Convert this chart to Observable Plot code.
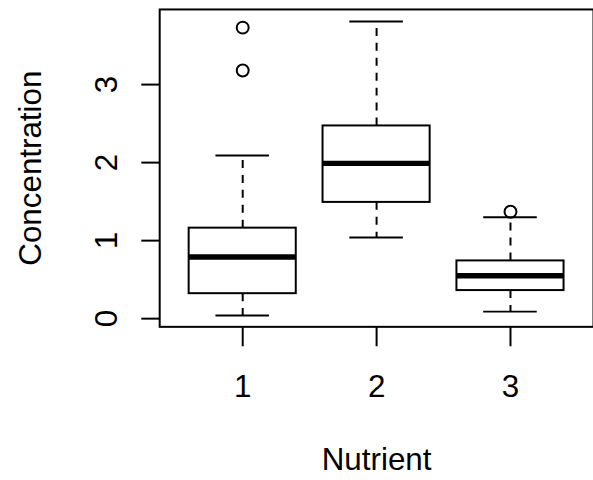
<!DOCTYPE html>
<html>
<head>
<meta charset="utf-8">
<script src="https://cdn.jsdelivr.net/npm/d3@7"></script>
<script src="https://cdn.jsdelivr.net/npm/@observablehq/plot@0.6"></script>
<style>
  html, body { margin: 0; padding: 0; background: #fff; overflow: hidden; }
  #chart svg { display: block; }
</style>
</head>
<body>
<div id="chart"></div>
<script>
// Data
const groups = [1, 2, 3];
const lowerWhisker = [0.04, 1.04, 0.09];
const q1 = [0.32, 1.49, 0.36];
const median = [0.79, 1.99, 0.55];
const q3 = [1.16, 2.47, 0.74];
const upperWhisker = [2.09, 3.81, 1.30];
const outlierGroup = [1, 1, 3];
const outlierValue = [3.18, 3.73, 1.37];
const yTicks = [0, 1, 2, 3];
const xTicks = ["1", "2", "3"];
const xLabel = "Nutrient";
const yLabel = "Concentration";

const stats = groups.map((g, i) => ({
  g, lo: lowerWhisker[i], q1: q1[i], med: median[i], q3: q3[i], hi: upperWhisker[i]
}));
const outliers = outlierGroup.map((g, i) => ({g, v: outlierValue[i]}));

const boxHalf = 0.4, capHalf = 0.2;
const font = 31.5;

const chart = Plot.plot({
  width: 596,
  height: 480,
  marginLeft: 160,
  marginRight: 0,
  marginTop: 9,
  marginBottom: 152,
  style: {fontFamily: "'Liberation Sans', Arial, sans-serif", fontSize: font + "px", color: "#000", background: "#fff"},
  x: {type: "linear", domain: [0.38, 3.62]},
  y: {domain: [-0.105, 3.963]},
  marks: [
    // whiskers (dashed)
    Plot.ruleX(stats, {x: "g", y1: "q3", y2: "hi", stroke: "#000", strokeWidth: 2, strokeDasharray: "8,7"}),
    Plot.ruleX(stats, {x: "g", y1: "q1", y2: "lo", stroke: "#000", strokeWidth: 2, strokeDasharray: "8,7"}),
    // whisker caps
    Plot.ruleY(stats, {y: "hi", x1: d => d.g - capHalf, x2: d => d.g + capHalf, stroke: "#000", strokeWidth: 2}),
    Plot.ruleY(stats, {y: "lo", x1: d => d.g - capHalf, x2: d => d.g + capHalf, stroke: "#000", strokeWidth: 2}),
    // boxes
    Plot.rect(stats, {x1: d => d.g - boxHalf, x2: d => d.g + boxHalf, y1: "q1", y2: "q3", fill: "#fff", stroke: "#000", strokeWidth: 2}),
    // medians
    Plot.ruleY(stats, {y: "med", x1: d => d.g - boxHalf, x2: d => d.g + boxHalf, stroke: "#000", strokeWidth: 5.5}),
    // outliers
    Plot.dot(outliers, {x: "g", y: "v", r: 6, fill: "none", stroke: "#000", strokeWidth: 2}),
    // frame
    Plot.frame({stroke: "#000", strokeWidth: 2}),
    // axis ticks (labels drawn separately)
    Plot.axisY({ticks: yTicks, tickSize: 18, tickFormat: () => "", label: null, strokeWidth: 2, stroke: "#000", strokeOpacity: 1}),
    Plot.axisX({ticks: groups, tickSize: 20, tickFormat: () => "", label: null, strokeWidth: 2, stroke: "#000", strokeOpacity: 1}),
    // tick labels
    Plot.text(yTicks, {y: d => d, text: d => String(d), frameAnchor: "left", dx: -43, rotate: -90, textAnchor: "middle", lineAnchor: "bottom", fontSize: font, fill: "#000"}),
    Plot.text(groups, {x: d => d, text: (d, i) => xTicks[i], frameAnchor: "bottom", dy: 71, textAnchor: "middle", lineAnchor: "bottom", fontSize: font, fill: "#000"}),
    // axis titles
    Plot.text([xLabel], {frameAnchor: "bottom", dy: 144, textAnchor: "middle", lineAnchor: "bottom", fontSize: font, fill: "#000"}),
    Plot.text([yLabel], {frameAnchor: "left", dx: -119, rotate: -90, textAnchor: "middle", lineAnchor: "bottom", fontSize: font, fill: "#000"})
  ]
});
document.getElementById("chart").appendChild(chart);
</script>
</body>
</html>
